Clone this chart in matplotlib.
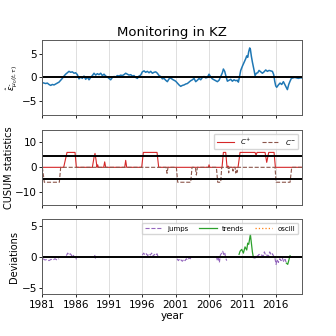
import matplotlib
matplotlib.use("Agg")
import matplotlib.pyplot as plt
import numpy as np

# monitored residual series (decimal years)
eps_years = [1981.00, 1981.25, 1981.50, 1981.75, 1982.00, 1982.25, 1982.50, 1982.75,
             1983.00, 1983.25, 1983.50, 1983.75, 1984.00, 1984.25, 1984.50, 1984.75,
             1985.00, 1985.25, 1985.50, 1985.75, 1986.00, 1986.25, 1986.50, 1986.75,
             1987.00, 1987.25, 1987.50, 1987.75, 1988.00, 1988.25, 1988.50, 1988.75,
             1989.00, 1989.25, 1989.50, 1989.75, 1990.00, 1990.25, 1990.50, 1990.75,
             1991.00, 1991.25, 1991.50, 1991.75, 1992.00, 1992.25, 1992.50, 1992.75,
             1993.00, 1993.25, 1993.50, 1993.75, 1994.00, 1994.25, 1994.50, 1994.75,
             1995.00, 1995.25, 1995.50, 1995.75, 1996.00, 1996.25, 1996.50, 1996.75,
             1997.00, 1997.25, 1997.50, 1997.75, 1998.00, 1998.25, 1998.50, 1998.75,
             1999.00, 1999.25, 1999.50, 1999.75, 2000.00, 2000.25, 2000.50, 2000.75,
             2001.00, 2001.25, 2001.50, 2001.75, 2002.00, 2002.25, 2002.50, 2002.75,
             2003.00, 2003.25, 2003.50, 2003.75, 2004.00, 2004.25, 2004.50, 2004.75,
             2005.00, 2005.25, 2005.50, 2005.75, 2006.00, 2006.25, 2006.50, 2006.75,
             2007.00, 2007.25, 2007.50, 2007.75, 2008.00, 2008.15, 2008.35, 2008.55,
             2008.75, 2009.00, 2009.25, 2009.50, 2009.75, 2010.00, 2010.25, 2010.40,
             2010.55, 2010.75, 2011.00, 2011.25, 2011.50, 2011.65, 2011.80, 2011.95,
             2012.10, 2012.20, 2012.35, 2012.50, 2012.65, 2012.80, 2012.90, 2013.10,
             2013.30, 2013.50, 2013.75, 2014.00, 2014.25, 2014.50, 2014.75, 2015.00,
             2015.25, 2015.50, 2015.70, 2015.85, 2016.00, 2016.15, 2016.40, 2016.65,
             2016.90, 2017.15, 2017.40, 2017.60, 2017.75, 2017.95, 2018.15, 2018.35,
             2018.60, 2018.85, 2019.10, 2019.40, 2019.65, 2019.90]
eps_vals = [-1.1, -1.2, -1.3, -1.2, -1.5, -1.7, -1.5, -1.6,
            -1.4, -1.2, -1.0, -0.6, -0.2, 0.3, 0.7, 1.0,
            1.3, 1.1, 1.2, 0.9, 1.0, 0.6, -0.3, 0.1,
            -0.2, 0.3, -0.4, 0.1, -0.5, 0.0, 0.4, 0.9,
            0.5, 0.8, 0.6, 0.9, 0.4, 0.7, 0.3, 0.1,
            -0.2, -0.5, 0.0, 0.2, 0.1, 0.4, 0.3, 0.5,
            0.4, 0.6, 0.9, 0.7, 0.5, 0.6, 0.3, 0.4,
            0.0, -0.2, 0.3, 0.5, 1.2, 1.4, 1.1, 1.3,
            1.0, 1.3, 0.9, 1.1, 1.2, 0.9, 0.4, 0.2,
            -0.3, -0.2, -0.6, -0.9, -0.3, -0.1, -0.4, -0.6,
            -0.8, -1.2, -1.6, -1.9, -1.7, -1.6, -1.4, -1.3,
            -1.0, -0.7, -0.5, -0.2, -0.9, -0.6, -0.2, -0.5,
            0.0, 0.2, -0.1, 0.0, 0.7, 0.1, -0.3, -0.5,
            -0.7, -0.9, -0.6, 0.2, 1.0, 1.8, 1.3, 0.2,
            -0.8, -0.6, -0.4, -0.8, -0.5, -0.7, -0.6, -1.0,
            0.0, 1.5, 2.4, 3.2, 4.0, 4.6, 4.3, 5.5,
            6.3, 6.0, 4.5, 3.3, 2.3, 1.2, 0.4, 0.9,
            1.0, 1.5, 1.2, 0.9, 1.2, 1.6, 1.3, 1.5,
            1.4, 1.3, 0.6, -0.8, -1.8, -2.1, -1.6, -1.2,
            -1.5, -0.9, -1.6, -2.2, -2.6, -1.5, -0.8, -0.2,
            -0.1, 0.0, -0.1, -0.2, -0.1, -0.1]

# CUSUM statistics
cp_years = [1981.0, 1984.2, 1984.45, 1984.7, 1985.9, 1986.1, 1988.5, 1988.75, 1988.9,
            1989.05, 1989.2, 1989.3, 1989.4, 1990.2, 1990.35, 1990.5, 1993.35, 1993.5,
            1993.65, 1995.9, 1996.15, 1998.2, 1998.45, 2005.9, 2006.0, 2006.1, 2007.95,
            2008.15, 2008.5, 2008.7, 2008.85, 2009.0, 2010.35, 2010.65, 2012.9, 2013.05,
            2013.2, 2014.4, 2014.65, 2014.95, 2015.75, 2015.95, 2019.9]
cp_vals = [0, 0, 3, 6, 6, 0, 0, 4, 5.6,
           3, 0, 1.0, 0, 0, 2.2, 0, 0, 2.8,
           0, 0, 6, 6, 0, 0, 1.0, 0, 0,
           6, 6, 0, 0.5, 0, 0, 6, 6, 4.9,
           6, 6, 2.0, 6, 6, 0, 0]
cm_years = [1981.0, 1981.15, 1981.3, 1983.55, 1983.75, 1999.55, 1999.7, 1999.85, 2001.1,
            2001.3, 2003.25, 2003.45, 2003.95, 2004.1, 2004.25, 2007.1, 2007.3, 2007.75,
            2007.9, 2008.85, 2008.95, 2009.05, 2009.5, 2009.6, 2009.7, 2009.9, 2010.0,
            2010.1, 2010.2, 2010.3, 2015.9, 2016.05, 2018.15, 2018.4, 2019.9]
cm_vals = [0, -3, -6, -6, 0, 0, -2.4, 0, 0,
           -6, -6, 0, 0, -3.1, 0, 0, -6, -6,
           0, 0, -2.2, 0, 0, -1.5, 0, 0, -2.3,
           -1.0, -2.0, 0, 0, -6, -6, 0, 0]
threshold = 4.5

# deviations (nan separates segments)
nan = np.nan
jump_years = [1981.1, 1981.4, 1981.7, 1982.0, 1982.3, 1982.6, 1982.9, 1983.2, 1983.5, 1983.55,
              1984.6, 1984.8, 1985.0, 1985.2, 1985.4, 1985.6, 1985.8, 1986.0, 1986.1, 1986.15,
              1988.85, 1988.95, 1989.05, 1989.1,
              1996.0, 1996.2, 1996.4, 1996.6, 1996.8, 1997.0, 1997.2, 1997.4, 1997.6, 1997.8,
              1998.0, 1998.2, 1998.4, 1998.45,
              2001.2, 2001.4, 2001.6, 2001.8, 2002.0, 2002.2, 2002.4, 2002.6, 2002.8, 2003.0,
              2003.3, 2003.35,
              2007.1, 2007.25, 2007.4, 2007.55, 2007.7, 2007.9, 2008.05, 2008.2, 2008.35,
              2008.5, 2008.65, 2008.7,
              2012.65, 2012.9, 2013.1, 2013.3, 2013.5, 2013.7, 2013.9, 2014.1, 2014.3, 2014.5,
              2014.7, 2014.9, 2015.1, 2015.3, 2015.5, 2015.7, 2015.9, 2016.05, 2016.2, 2016.4,
              2016.6, 2016.8, 2017.0, 2017.2, 2017.4, 2017.6]
jump_vals = [-0.3, -0.5, -0.4, -0.6, -0.4, -0.5, -0.3, -0.5, -0.3, nan,
             0.2, 0.6, 0.3, 0.5, 0.2, 0.4, -0.1, 0.1, -0.4, nan,
             0.3, -0.2, 0.1, nan,
             0.3, 0.6, 0.3, 0.5, 0.2, 0.5, 0.3, 0.6, 0.1, 0.4,
             0.2, 0.5, -0.1, nan,
             -0.3, -0.6, -0.3, -0.5, -0.7, -0.4, -0.6, -0.3, -0.5, -0.2,
             -0.3, nan,
             0.1, -0.6, -0.2, -0.9, 0.3, 0.6, 0.9, 0.4, 0.7,
             -0.2, -0.6, nan,
             -0.1, -0.2, 0.3, 0.1, 0.4, 0.2, 0.3, 0.1, 0.8, 0.2,
             0.3, 0.1, 0.8, 0.3, 0.5, 0.1, -0.3, -1.2, -0.4, -0.9,
             -0.3, -0.6, -0.2, -0.8, -0.4, -1.0]
trend_years = [2010.5, 2010.65, 2010.9, 2011.15, 2011.4, 2011.65, 2011.8, 2011.95, 2012.2,
               2012.35, 2012.5, 2012.65, 2012.7,
               2017.6, 2017.8, 2018.0, 2018.15]
trend_vals = [0.4, 0.9, 1.2, 0.6, 1.6, 1.1, 2.2, 2.0, 3.6,
              2.2, 0.8, -0.1, nan,
              -1.0, -1.2, -0.4, 0.2]

xticks = [1981, 1986, 1991, 1996, 2001, 2006, 2011, 2016]

plt.rcParams['font.size'] = 7.5
fig = plt.figure(figsize=(3.36, 3.36), dpi=100)
ax1 = fig.add_axes([0.126, 0.658, 0.772, 0.223])
ax2 = fig.add_axes([0.126, 0.391, 0.772, 0.222], sharex=ax1)
ax3 = fig.add_axes([0.126, 0.124, 0.772, 0.223], sharex=ax1)

ax1.plot(eps_years, eps_vals, color="tab:blue", lw=1.1)
ax1.axhline(0, color="k", lw=1.4)
ax1.set_ylim(-8, 8)
ax1.set_yticks([-5, 0, 5])
ax1.set_ylabel(r'$\hat{\varepsilon}_{\hat{\mu}_0(t,\tau)}$', fontsize=6, labelpad=2)
ax1.set_title("Monitoring in KZ", fontsize=9.5, pad=3)

ax2.plot(cp_years, cp_vals, color="tab:red", lw=0.8, label=r'$C^{+}$')
ax2.plot(cm_years, cm_vals, color="tab:brown", lw=0.8, ls="--", label=r'$C^{-}$')
ax2.axhline(threshold, color="k", lw=1.4)
ax2.axhline(-threshold, color="k", lw=1.4)
ax2.set_ylim(-15, 15)
ax2.set_yticks([-10, 0, 10])
ax2.set_ylabel("CUSUM statistics", fontsize=7, labelpad=1)
ax2.legend(loc="upper right", ncol=2, fontsize=5, handlelength=2.5, columnspacing=1.6)

ax3.plot(jump_years, jump_vals, color="tab:purple", lw=0.8, ls="--", label="jumps")
ax3.plot(trend_years, trend_vals, color="tab:green", lw=0.9, label="trends")
ax3.plot([], [], color="tab:orange", lw=0.9, ls=":", label="oscill")
ax3.axhline(0, color="k", lw=1.4)
ax3.set_ylim(-6, 6)
ax3.set_yticks([-5, 0, 5])
ax3.set_ylabel("Deviations", fontsize=7, labelpad=2)
ax3.set_xlabel("year", labelpad=1)
ax3.legend(loc="upper right", ncol=3, fontsize=5, handlelength=2.5, columnspacing=1.5)

for ax in (ax1, ax2, ax3):
    ax.set_xticks(xticks)
    ax.set_xlim(1981, 2019.9)
    ax.xaxis.grid(True, color="0.85", lw=0.6)
    ax.tick_params(length=2.5, width=0.6, pad=1.5)
    for s in ax.spines.values():
        s.set_color("0.35")
        s.set_linewidth(0.7)
ax1.tick_params(labelbottom=False)
ax2.tick_params(labelbottom=False)

fig.savefig("out.png", dpi=100)
